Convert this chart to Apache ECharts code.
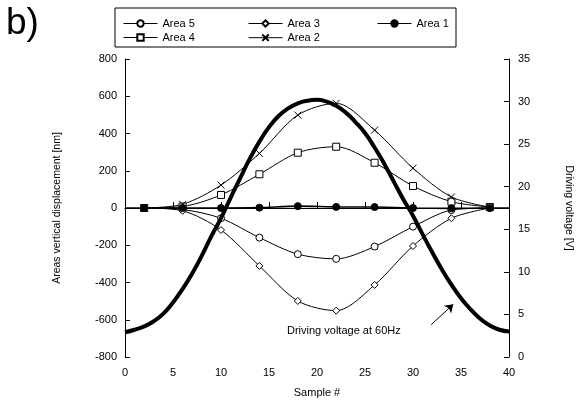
<!DOCTYPE html>
<html lang="en">
<head>
    <meta charset="UTF-8">
    <title>Areas vertical displacement</title>
    <style>
        body { margin: 0; background: #fff; }
    </style>
</head>
<body>
    <div id="main" style="width: 577px;height:405px;"></div>
    <script src="https://cdn.jsdelivr.net/npm/echarts@6/dist/echarts.min.js"></script>
    <script>
        // sample positions of the measured areas
        var sampleX = [2, 6, 10, 14, 18, 22, 26, 30, 34, 38];
        var area5 = [0, -8, -55, -159, -248, -273, -207, -100, -11, 0];
        var area3 = [0, -15, -118, -311, -499, -551, -413, -204, -55, 0];
        var area4 = [0, 8, 70, 181, 297, 329, 243, 118, 34, 5];
        var area2 = [0, 20, 123, 293, 499, 562, 418, 214, 59, 5];
        // area 1 runs the full width, markers only at the sample positions
        var area1X = [0, 2, 6, 10, 14, 18, 22, 26, 30, 34, 38, 40];
        var area1 = [0, 0, 0, 0, 2, 10, 6, 5, 0, -2, 0, 0];
        // driving voltage, one value per sample
        var voltX = [];
        for (var i = 0; i <= 40; i++) voltX.push(i);
        var volt = [2.9, 3.2, 3.6, 4.2, 5.1, 6.4, 8.0, 9.8, 11.9, 14.2,
                    16.3, 18.7, 21.0, 23.3, 25.3, 27.0, 28.3, 29.2, 29.8, 30.1,
                    30.2, 30.0, 29.5, 28.7, 27.6, 26.3, 24.6, 22.7, 20.6, 18.5,
                    16.6, 14.4, 12.3, 10.3, 8.5, 6.9, 5.6, 4.5, 3.7, 3.2, 3.0];

        var font = 'Liberation Sans, Arial, sans-serif';

        function pairs(xs, ys) {
            return xs.map(function (x, k) { return [x, ys[k]]; });
        }

        var myChart = echarts.init(document.getElementById('main'));

        function areaSeries(name, data, symbol, fill) {
            return {
                name: name,
                type: 'line',
                data: data,
                smooth: 0.3,
                symbol: symbol,
                symbolSize: 7,
                lineStyle: { color: '#000', width: 1 },
                itemStyle: { color: fill, borderColor: '#000', borderWidth: 1 },
                emphasis: { disabled: true },
                animation: false
            };
        }

        var legendBase = {
            orient: 'vertical',
            padding: 0,
            itemWidth: 34,
            itemHeight: 8,
            itemGap: 3,
            top: 18,
            lineStyle: { width: 1 },
            textStyle: { fontFamily: font, fontSize: 11, color: '#000' },
            selectedMode: false
        };

        var s1 = areaSeries('Area 1', pairs(area1X, area1), function (v) {
            return (v[0] === 0 || v[0] === 40) ? 'none' : 'circle';
        }, '#000');
        s1.lineStyle.width = 1.6;
        s1.z = 4;

        option = {
            backgroundColor: '#fff',
            textStyle: { fontFamily: font },
            grid: { left: 125, right: 68, top: 59, bottom: 48, outerBoundsMode: 'none', containLabel: false },
            legend: [
                Object.assign({}, legendBase, { left: 123, data: ['Area 5', 'Area 4'] }),
                Object.assign({}, legendBase, { left: 248, data: ['Area 3', 'Area 2'] }),
                Object.assign({}, legendBase, { left: 377, data: ['Area 1'] })
            ],
            graphic: [
                { type: 'rect', shape: { x: 115, y: 8, width: 341, height: 39 },
                  style: { fill: 'none', stroke: '#000', lineWidth: 1 } },
                { type: 'text', left: 6, top: 5,
                  style: { text: 'b)', font: '37px ' + font, fill: '#000' } },
                { type: 'text', left: 287, top: 325,
                  style: { text: 'Driving voltage at 60Hz', font: '11px ' + font, fill: '#000' } }
            ],
            xAxis: {
                type: 'value',
                min: 0, max: 40, interval: 5,
                name: 'Sample #',
                nameLocation: 'middle',
                nameGap: 30,
                nameTextStyle: { fontFamily: font, fontSize: 11, color: '#000' },
                axisLine: { lineStyle: { color: '#000', width: 1 } },
                axisTick: { inside: true, length: 6, lineStyle: { color: '#000' } },
                axisLabel: { fontFamily: font, fontSize: 11, color: '#000', margin: 10 },
                splitLine: { show: false }
            },
            yAxis: [{
                type: 'value',
                min: -800, max: 800, interval: 200,
                name: 'Areas vertical displacement [nm]',
                nameLocation: 'middle',
                nameRotate: 90,
                nameGap: 62,
                nameTextStyle: { fontFamily: font, fontSize: 10.5, color: '#000' },
                axisLine: { show: true, lineStyle: { color: '#000', width: 1 } },
                axisTick: { show: true, inside: true, length: 5, lineStyle: { color: '#000' } },
                axisLabel: { fontFamily: font, fontSize: 11, color: '#000', margin: 8 },
                splitLine: { show: false }
            }, {
                type: 'value',
                min: 0, max: 35, interval: 5,
                position: 'right',
                name: 'Driving voltage [V]',
                nameLocation: 'middle',
                nameRotate: -90,
                nameGap: 54,
                nameTextStyle: { fontFamily: font, fontSize: 10.5, color: '#000' },
                axisLine: { show: true, lineStyle: { color: '#000', width: 1 } },
                axisTick: { show: true, inside: true, length: 5, lineStyle: { color: '#000' } },
                axisLabel: { fontFamily: font, fontSize: 11, color: '#000', margin: 9 },
                splitLine: { show: false }
            }],
            series: [
                areaSeries('Area 5', pairs(sampleX, area5), 'circle', '#fff'),
                areaSeries('Area 3', pairs(sampleX, area3), 'diamond', '#fff'),
                areaSeries('Area 4', pairs(sampleX, area4), 'rect', '#fff'),
                areaSeries('Area 2', pairs(sampleX, area2), 'path://M0,0L10,10M10,0L0,10', 'none'),
                s1,
                {
                    name: 'Driving voltage',
                    type: 'line',
                    yAxisIndex: 1,
                    data: pairs(voltX, volt),
                    smooth: true,
                    symbol: 'none',
                    lineStyle: { color: '#000', width: 4 },
                    emphasis: { disabled: true },
                    animation: false,
                    z: 5,
                    markLine: {
                        silent: true,
                        symbol: ['none', 'arrow'],
                        symbolSize: 8,
                        label: { show: false },
                        lineStyle: { color: '#000', width: 1, type: 'solid' },
                        data: [[{ coord: [31.9, 3.8] }, { coord: [34.2, 6.2] }]],
                        animation: false
                    }
                }
            ]
        };

        myChart.setOption(option);
    </script>
</body>
</html>
